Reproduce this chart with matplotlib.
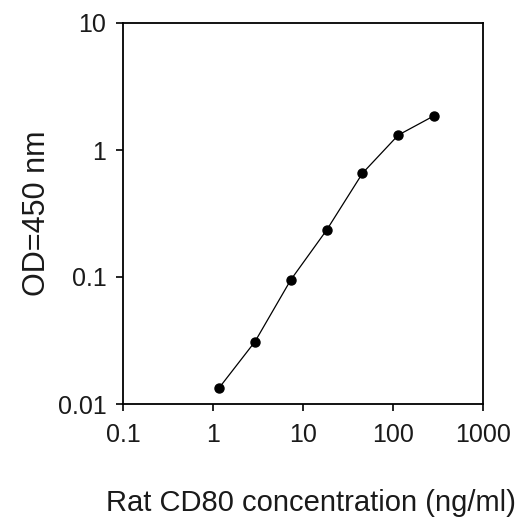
import matplotlib
matplotlib.use("Agg")
import matplotlib.pyplot as plt
from matplotlib.ticker import FixedLocator, FixedFormatter, NullLocator

# standard curve values
concentracao = [1.17, 2.93, 7.32, 18.3, 45.8, 114.4, 286]
od450 = [0.0134, 0.031, 0.095, 0.234, 0.656, 1.31, 1.86]

x_ticks = [0.1, 1, 10, 100, 1000]
x_tick_labels = ["0.1", "1", "10", "100", "1000"]
y_ticks = [0.01, 0.1, 1, 10]
y_tick_labels = ["0.01", "0.1", "1", "10"]

plt.rcParams['font.family'] = ['Liberation Sans', 'DejaVu Sans']

fig = plt.figure(figsize=(5.21, 5.23), dpi=100)
ax = fig.add_axes([123 / 521, 1 - 404 / 523, (483 - 123) / 521, (404 - 23) / 523])

ax.plot(concentracao, od450, color='black', linewidth=0.9, marker='o',
        markersize=6.5, markerfacecolor='black', markeredgecolor='black')

ax.set_xscale('log')
ax.set_yscale('log')
ax.set_xlim(0.1, 1000)
ax.set_ylim(0.01, 10)

ax.xaxis.set_major_locator(FixedLocator(x_ticks))
ax.xaxis.set_major_formatter(FixedFormatter(x_tick_labels))
ax.xaxis.set_minor_locator(NullLocator())
ax.yaxis.set_major_locator(FixedLocator(y_ticks))
ax.yaxis.set_major_formatter(FixedFormatter(y_tick_labels))
ax.yaxis.set_minor_locator(NullLocator())

for s in ax.spines.values():
    s.set_linewidth(1.3)

ax.tick_params(axis='both', direction='out', length=5, width=1.2,
               labelsize=18, colors='black', labelcolor='#1a1a1a')
ax.tick_params(axis='x', pad=9)
ax.tick_params(axis='y', pad=7)

ax.set_xlabel('Rat CD80 concentration (ng/ml)', fontsize=21, labelpad=30,
              x=0.522, ha='center', color='#1a1a1a')
ax.set_ylabel('OD=450 nm', fontsize=22, labelpad=4, color='#1a1a1a')

fig.savefig('out.png', dpi=100)
